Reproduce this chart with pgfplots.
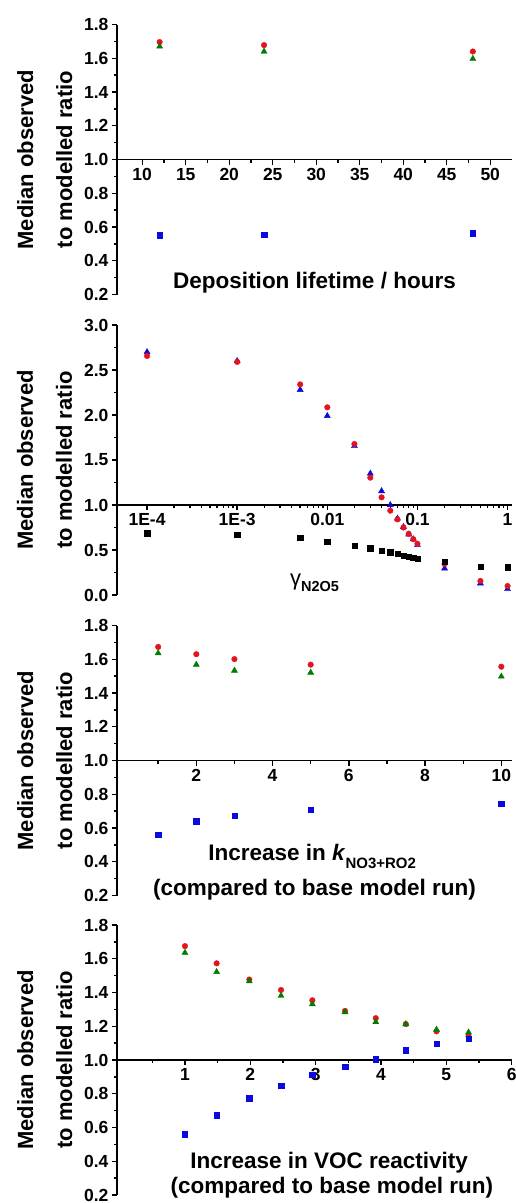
\documentclass[border=0pt]{standalone}
\usepackage{fontspec}
\setmainfont{Liberation Sans}
\usepackage{pgfplots}
\pgfplotsset{compat=1.18}

\definecolor{mred}{RGB}{228,20,30}
\definecolor{mgreen}{RGB}{0,125,0}
\definecolor{mblue}{RGB}{10,10,220}

\tikzset{
  ylab/.style={rotate=90, anchor=base, font=\fontsize{22}{26}\selectfont\bfseries},
  xlab/.style={anchor=base, font=\fontsize{22.5}{27}\selectfont\bfseries},
}

\pgfplotsset{
  panel/.style={
    scale only axis, width=395pt, height=270pt,
    anchor=north west,
    axis y line=left, axis x line=middle,
    axis line style={-, line width=1.9pt},
    % x axis sits at y = 1
    y coord trafo/.code={\pgfmathparse{##1-1}},
    y coord inv trafo/.code={\pgfmathparse{##1+1}},
    ymin=0.2, ymax=1.8,
    ytick={0.2,0.4,0.6,0.8,1.0,1.2,1.4,1.6,1.8},
    yticklabels={0.2,0.4,0.6,0.8,1.0,1.2,1.4,1.6,1.8},
    minor y tick num=1,
    tick align=outside,
    major tick length=5pt, minor tick length=3pt,
    tick style={line width=1.4pt, black},
    ticklabel style={font=\fontsize{17.5}{20}\selectfont\bfseries},
    /pgf/number format/assume math mode=true,
    clip=false,
  },
  red pts/.style={only marks, mark=*, mark size=2.8pt, mred},
  grn pts/.style={only marks, mark=triangle*, mark size=3.5pt, mgreen},
  blu pts/.style={only marks, mark=square*, mark size=2.7pt, mblue},
}

\begin{document}
\begin{tikzpicture}
\path[use as bounding box] (0,0) rectangle (516pt,-1203pt);

% panel 1: deposition lifetime
\begin{axis}[panel, at={(117pt,-24.5pt)},
  xmin=7.1, xmax=52.5,
  xtick={10,15,...,50}, minor xtick={12.5,17.5,...,47.5}]
\addplot[red pts] coordinates {(12,1.696) (24,1.678) (48,1.640)};
\addplot[grn pts] coordinates {(12,1.670) (24,1.640) (48,1.597)};
\addplot[blu pts] coordinates {(12,0.551) (24,0.555) (48,0.563)};
\node[xlab] at (axis description cs:0.5,0.021) {Deposition lifetime / hours};
\node[ylab] at ([xshift=-84pt]axis description cs:0,0.5) {Median observed};
\node[ylab] at ([xshift=-45pt]axis description cs:0,0.5) {to modelled ratio};
\end{axis}

% panel 2: gamma N2O5
\begin{axis}[panel, at={(117pt,-325pt)}, xmode=log,
  xmin=4.64e-5, xmax=1.12,
  ymin=0, ymax=3,
  ytick={0,0.5,1,1.5,2,2.5,3},
  yticklabels={0.0,0.5,1.0,1.5,2.0,2.5,3.0},
  xtick={1e-4,1e-3,0.01,0.1,1},
  xticklabels={1E-4,1E-3,0.01,0.1,1}]
\addplot[only marks, mark=triangle*, mark size=3.5pt, mblue] coordinates {
  (1e-4,2.70) (1e-3,2.60) (0.005,2.28) (0.01,1.99) (0.02,1.656)
  (0.03,1.35) (0.04,1.155) (0.05,1.00) (0.06,0.85) (0.07,0.756)
  (0.08,0.674) (0.09,0.62) (0.1,0.556) (0.2,0.296) (0.5,0.13) (1,0.067)};
\addplot[red pts] coordinates {
  (1e-4,2.656) (1e-3,2.59) (0.005,2.34) (0.01,2.085) (0.02,1.678)
  (0.03,1.304) (0.04,1.085) (0.05,0.937) (0.06,0.84) (0.07,0.75)
  (0.08,0.68) (0.09,0.62) (0.1,0.57) (0.2,0.344) (0.5,0.156) (1,0.10)};
\addplot[only marks, mark=square*, mark size=2.7pt, black] coordinates {
  (1e-4,0.685) (1e-3,0.667) (0.005,0.64) (0.01,0.595) (0.02,0.548)
  (0.03,0.52) (0.04,0.492) (0.05,0.476) (0.06,0.458) (0.07,0.44)
  (0.08,0.426) (0.09,0.415) (0.1,0.406) (0.2,0.37) (0.5,0.315) (1,0.307)};
\node[anchor=base, font=\fontsize{22}{26}\selectfont] at (axis description cs:0.5,0.037)
  {γ\raisebox{-0.3em}{\fontsize{14.5}{15}\selectfont\bfseries N2O5}};
\node[ylab] at ([xshift=-84pt]axis description cs:0,0.5) {Median observed};
\node[ylab] at ([xshift=-45pt]axis description cs:0,0.5) {to modelled ratio};
\end{axis}

% panel 3: k NO3+RO2
\begin{axis}[panel, at={(117pt,-625.5pt)},
  xmin=-0.08, xmax=10.28,
  xtick={2,4,6,8,10}, minor xtick={1,3,5,7,9}]
\addplot[red pts] coordinates {(1,1.673) (2,1.630) (3,1.601) (5,1.568) (10,1.556)};
\addplot[grn pts] coordinates {(1,1.636) (2,1.568) (3,1.533) (5,1.521) (10,1.498)};
\addplot[blu pts] coordinates {(1,0.559) (2,0.641) (3,0.672) (5,0.707) (10,0.744)};
\node[xlab] at (axis description cs:0.494,0.129)
  {Increase in \textit{k}\raisebox{-0.35em}{\fontsize{15}{15}\selectfont NO3+RO2}};
\node[xlab] at (axis description cs:0.5,0.0) {(compared to base model run)};
\node[ylab] at ([xshift=-84pt]axis description cs:0,0.5) {Median observed};
\node[ylab] at ([xshift=-45pt]axis description cs:0,0.5) {to modelled ratio};
\end{axis}

% panel 4: VOC reactivity
\begin{axis}[panel, at={(117pt,-925pt)},
  xmin=-0.04, xmax=6.005,
  xtick={1,2,3,4,5,6}, minor xtick={0.5,1.5,2.5,3.5,4.5,5.5}]
\addplot[red pts] coordinates {(1,1.675) (1.485,1.573) (1.985,1.477) (2.47,1.415)
  (2.95,1.354) (3.45,1.291) (3.92,1.248) (4.38,1.213) (4.85,1.170) (5.34,1.141)};
\addplot[grn pts] coordinates {(1,1.636) (1.485,1.522) (1.985,1.467) (2.47,1.381)
  (2.95,1.331) (3.45,1.284) (3.92,1.225) (4.38,1.213) (4.85,1.180) (5.34,1.164)};
\addplot[blu pts] coordinates {(1,0.560) (1.485,0.673) (1.985,0.773) (2.47,0.849)
  (2.95,0.912) (3.45,0.959) (3.92,1.004) (4.38,1.059) (4.85,1.096) (5.34,1.125)};
\node[xlab] at (axis description cs:0.537,0.099) {Increase in VOC reactivity};
\node[xlab] at (axis description cs:0.544,0.004) {(compared to base model run)};
\node[ylab] at ([xshift=-84pt]axis description cs:0,0.5) {Median observed};
\node[ylab] at ([xshift=-45pt]axis description cs:0,0.5) {to modelled ratio};
\end{axis}
\end{tikzpicture}
\end{document}
